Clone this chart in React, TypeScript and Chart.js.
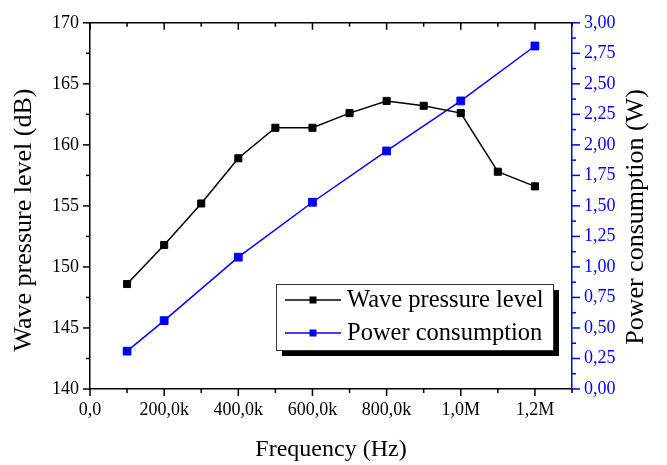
import React, { useEffect, useRef } from "react";
import { Chart, registerables } from "chart.js";

Chart.register(...registerables);

const frequencies = [100000, 200000, 300000, 400000, 500000, 600000, 700000, 800000, 900000, 1000000, 1100000, 1200000];
const wavePressure = [148.6, 151.8, 155.2, 158.9, 161.4, 161.4, 162.6, 163.6, 163.2, 162.6, 157.8, 156.6];
const powerFrequencies = [100000, 200000, 400000, 600000, 800000, 1000000, 1200000];
const powerConsumption = [0.31, 0.56, 1.08, 1.53, 1.95, 2.36, 2.81];

const xTickValues = [0, 200000, 400000, 600000, 800000, 1000000, 1200000];
const xTickLabels = ["0,0", "200,0k", "400,0k", "600,0k", "800,0k", "1,0M", "1,2M"];

const leftTitle = "Wave pressure level (dB)";
const rightTitle = "Power consumption (W)";

const FONT = "'Liberation Serif', 'Times New Roman', serif";
const BLUE = "#0000ff";

const ticksPlugin = {
  id: "customTicks",
  afterDraw(chart: any) {
    const ctx = chart.ctx;
    const area = chart.chartArea;
    const x = chart.scales.x;
    const yl = chart.scales.y;
    const yr = chart.scales.y1;
    ctx.save();
    ctx.lineWidth = 1.5;
    ctx.strokeStyle = "#000";
    ctx.beginPath();
    ctx.moveTo(area.left, area.top);
    ctx.lineTo(area.right, area.top);
    ctx.stroke();
    x.ticks.forEach((t: any) => {
      const px = x.getPixelForValue(t.value);
      const major = xTickValues.indexOf(t.value) >= 0;
      const len = major ? 7 : 4;
      ctx.beginPath();
      ctx.moveTo(px, area.bottom);
      ctx.lineTo(px, area.bottom + len);
      ctx.moveTo(px, area.top);
      ctx.lineTo(px, area.top + len);
      ctx.stroke();
    });
    yl.ticks.forEach((t: any) => {
      const py = yl.getPixelForValue(t.value);
      const major = Math.abs(t.value % 5) < 1e-9;
      const len = major ? 7 : 4;
      ctx.beginPath();
      ctx.moveTo(area.left, py);
      ctx.lineTo(area.left - len, py);
      ctx.stroke();
    });
    ctx.strokeStyle = BLUE;
    yr.ticks.forEach((t: any) => {
      const py = yr.getPixelForValue(t.value);
      const major = Math.abs((t.value * 4) % 1) < 1e-9;
      const len = major ? 8 : 4;
      ctx.beginPath();
      ctx.moveTo(area.right, py);
      ctx.lineTo(area.right + len, py);
      ctx.stroke();
    });
    // y axis titles (both read bottom-to-top)
    ctx.fillStyle = "#000";
    ctx.font = `26px ${FONT}`;
    ctx.textAlign = "center";
    ctx.textBaseline = "middle";
    ctx.save();
    ctx.translate(24, 220);
    ctx.rotate(-Math.PI / 2);
    ctx.fillText(leftTitle, 0, 0);
    ctx.restore();
    ctx.save();
    ctx.translate(636, 217);
    ctx.rotate(-Math.PI / 2);
    ctx.fillText(rightTitle, 0, 0);
    ctx.restore();
    // legend
    const bx = 276, by = 284, bw = 277, bh = 66;
    ctx.fillStyle = "#000";
    ctx.fillRect(bx + 6, by + 6, bw, bh);
    ctx.fillStyle = "#fff";
    ctx.fillRect(bx, by, bw, bh);
    ctx.lineWidth = 1;
    ctx.strokeStyle = "#333";
    ctx.strokeRect(bx + 0.5, by + 0.5, bw, bh);
    ctx.font = `24.5px ${FONT}`;
    ctx.textBaseline = "middle";
    ctx.textAlign = "left";
    chart.data.datasets.forEach((ds: any, i: number) => {
      const cy = 300 + i * 33;
      ctx.strokeStyle = ds.borderColor;
      ctx.lineWidth = 1.5;
      ctx.beginPath();
      ctx.moveTo(285, cy);
      ctx.lineTo(341, cy);
      ctx.stroke();
      ctx.fillStyle = ds.pointBackgroundColor;
      ctx.fillRect(313 - 3.5, cy - 3.5, 7, 7);
      ctx.fillStyle = "#000";
      ctx.fillText(ds.label, 347, cy + 1);
    });
    ctx.restore();
  },
};

export default function App() {
  const ref = useRef<HTMLCanvasElement | null>(null);
  useEffect(() => {
    if (!ref.current) return;
    const chart = new Chart(ref.current, {
      type: "line",
      data: {
        datasets: [
          {
            label: "Wave pressure level",
            data: frequencies.map((f, i) => ({ x: f, y: wavePressure[i] })),
            borderColor: "#000",
            backgroundColor: "#000",
            pointBackgroundColor: "#000",
            pointBorderColor: "#000",
            borderWidth: 1.5,
            pointStyle: "rect",
            pointRadius: 5,
            pointBorderWidth: 1,
            yAxisID: "y",
          },
          {
            label: "Power consumption",
            data: powerFrequencies.map((f, i) => ({ x: f, y: powerConsumption[i] })),
            borderColor: BLUE,
            backgroundColor: BLUE,
            pointBackgroundColor: BLUE,
            pointBorderColor: BLUE,
            borderWidth: 1.5,
            pointStyle: "rect",
            pointRadius: 5.5,
            pointBorderWidth: 1,
            yAxisID: "y1",
          },
        ],
      },
      options: {
        animation: false,
        responsive: true,
        maintainAspectRatio: false,
        layout: { padding: { top: 17, left: 0, right: 0, bottom: 0 } },
        plugins: { legend: { display: false }, tooltip: { enabled: false } },
        scales: {
          x: {
            type: "linear",
            min: 0,
            max: 1300000,
            afterFit: (s: any) => { s.height = 76; },
            grid: { display: false, drawTicks: false },
            border: { display: true, color: "#000", width: 1.5 },
            ticks: {
              stepSize: 100000,
              autoSkip: false,
              maxRotation: 0,
              padding: 10,
              color: "#000",
              font: { family: FONT, size: 18 },
              callback: (v: any) => {
                const i = xTickValues.indexOf(Number(v));
                return i >= 0 ? xTickLabels[i] : "";
              },
            },
            title: {
              display: true,
              text: "Frequency (Hz)",
              color: "#000",
              font: { family: FONT, size: 24 },
              padding: { top: 0, bottom: 1 },
            },
          },
          y: {
            type: "linear",
            position: "left",
            min: 140,
            max: 170,
            afterFit: (s: any) => { s.width = 90; },
            grid: { display: false, drawTicks: false },
            border: { display: true, color: "#000", width: 1.5 },
            ticks: {
              stepSize: 2.5,
              autoSkip: false,
              padding: 11,
              color: "#000",
              font: { family: FONT, size: 18 },
              callback: (v: any) => (Math.abs(Number(v) % 5) < 1e-9 ? String(v) : ""),
            },
            title: { display: false },
          },
          y1: {
            type: "linear",
            position: "right",
            min: 0,
            max: 3,
            afterFit: (s: any) => { s.width = 95; },
            grid: { display: false, drawTicks: false },
            border: { display: true, color: BLUE, width: 1.5 },
            ticks: {
              stepSize: 0.125,
              autoSkip: false,
              padding: 12,
              color: BLUE,
              font: { family: FONT, size: 18 },
              callback: (v: any) => {
                const n = Number(v);
                return Math.abs((n * 4) % 1) < 1e-9 ? n.toFixed(2).replace(".", ",") : "";
              },
            },
            title: { display: false },
          },
        },
      },
      plugins: [ticksPlugin],
    });
    return () => chart.destroy();
  }, []);
  return (
    <div style={{ position: "fixed", left: 0, top: 0, width: 667, height: 465, background: "#fff" }}>
      <canvas ref={ref} />
    </div>
  );
}
